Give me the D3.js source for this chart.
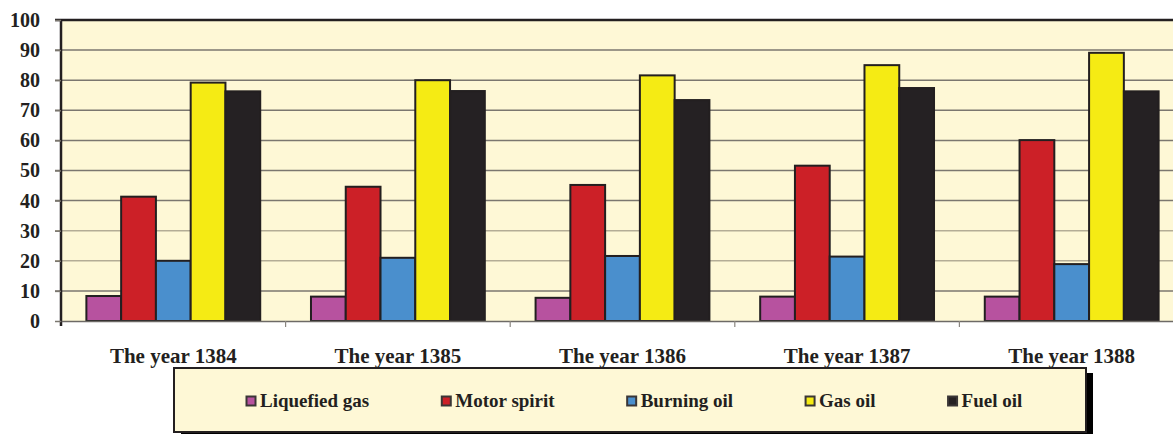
<!DOCTYPE html>
<html>
<head>
<meta charset="utf-8">
<script src="https://cdn.jsdelivr.net/npm/d3@7"></script>
<style>
  html, body { margin: 0; padding: 0; background: #fff; }
  svg text { font-family: "Liberation Serif", "Times New Roman", serif; font-weight: bold; fill: #231f20; }
</style>
</head>
<body>
<svg id="chart" width="1173" height="434"></svg>
<script>
// data
const years = ['The year 1384', 'The year 1385', 'The year 1386', 'The year 1387', 'The year 1388'];
const fuels = ['Liquefied gas', 'Motor spirit', 'Burning oil', 'Gas oil', 'Fuel oil'];
const liquefiedGas = [8.3, 8.1, 7.7, 8.1, 8.1];
const motorSpirit = [41.3, 44.6, 45.2, 51.6, 60.1];
const burningOil = [20.0, 21.0, 21.6, 21.4, 18.9];
const gasOil = [79.2, 80.0, 81.6, 85.0, 89.1];
const fuelOil = [76.3, 76.4, 73.4, 77.4, 76.3];
const yTicks = [0, 10, 20, 30, 40, 50, 60, 70, 80, 90, 100];

const seriesValues = [liquefiedGas, motorSpirit, burningOil, gasOil, fuelOil];
const colors = ['#b7529f', '#cc2027', '#4a8fcd', '#f5eb14', '#252123'];

const svg = d3.select('#chart');
const plotLeft = 61, plotTop = 20, plotBottom = 321, plotRight = 1184;

const x = d3.scaleBand()
  .domain(years)
  .range([plotLeft, plotRight])
  .paddingInner(0)
  .paddingOuter(0);

// bars sit side by side, with a gap of ~25px at both ends of every year
const xInner = d3.scaleBand()
  .domain(fuels)
  .range([0, x.bandwidth()])
  .paddingOuter(0.73)
  .paddingInner(0);

const y = d3.scaleLinear()
  .domain([0, 100])
  .range([plotBottom, plotTop]);

// plot background
svg.append('rect')
  .attr('x', plotLeft)
  .attr('y', plotTop)
  .attr('width', plotRight - plotLeft)
  .attr('height', plotBottom - plotTop)
  .attr('fill', '#fef8d6');

// gridlines
svg.append('g')
  .selectAll('line')
  .data(yTicks.filter(d => d > 0 && d < 100))
  .enter()
  .append('line')
  .attr('x1', plotLeft - 6)
  .attr('x2', plotRight)
  .attr('y1', d => y(d))
  .attr('y2', d => y(d))
  .attr('stroke', d => (d === 20 || d === 30) ? '#b4ad96' : '#7b776f')
  .attr('stroke-width', 1.5);

// bars
const groups = svg.selectAll('g.year')
  .data(years)
  .enter()
  .append('g')
  .attr('class', 'year')
  .attr('transform', d => `translate(${x(d)},0)`);

groups.selectAll('rect')
  .data((d, i) => fuels.map((f, j) => ({ fuel: f, value: seriesValues[j][i], color: colors[j] })))
  .enter()
  .append('rect')
  .attr('x', d => xInner(d.fuel))
  .attr('y', d => y(d.value))
  .attr('width', xInner.bandwidth())
  .attr('height', d => plotBottom - y(d.value))
  .attr('fill', d => d.color)
  .attr('stroke', '#231f20')
  .attr('stroke-width', 2);

// top border
svg.append('line')
  .attr('x1', plotLeft - 6).attr('x2', plotRight)
  .attr('y1', plotTop).attr('y2', plotTop)
  .attr('stroke', '#231f20').attr('stroke-width', 2.5);

// left axis line
svg.append('line')
  .attr('x1', plotLeft).attr('x2', plotLeft)
  .attr('y1', plotTop).attr('y2', plotBottom + 5)
  .attr('stroke', '#231f20').attr('stroke-width', 2.5);

// bottom axis
const xAxis = svg.append('g')
  .attr('transform', `translate(0,${plotBottom})`)
  .call(d3.axisBottom(x).tickSize(0).tickPadding(27));
xAxis.select('.domain').attr('stroke', '#6d6a66').attr('stroke-width', 1.5);
xAxis.selectAll('text')
  .style('font-family', '"Liberation Serif", serif')
  .style('font-weight', 'bold')
  .style('font-size', '21px')
  .attr('fill', '#231f20');

// category boundary ticks
svg.append('g')
  .selectAll('line')
  .data(years.slice(1))
  .enter()
  .append('line')
  .attr('x1', d => x(d)).attr('x2', d => x(d))
  .attr('y1', plotBottom).attr('y2', plotBottom + 6)
  .attr('stroke', '#8a8680').attr('stroke-width', 1.2);

// y axis labels
const yAxis = svg.append('g')
  .attr('transform', `translate(${plotLeft},0)`)
  .call(d3.axisLeft(y).tickValues(yTicks).tickSize(6).tickPadding(15));
yAxis.select('.domain').remove();
yAxis.selectAll('line').attr('stroke', '#7b776f').attr('stroke-width', 1.5);
yAxis.selectAll('text')
  .style('font-family', '"Liberation Serif", serif')
  .style('font-weight', 'bold')
  .style('font-size', '20px')
  .attr('fill', '#231f20');

// legend
const lg = { x: 174, y: 368, w: 912, h: 64 };
svg.append('rect')
  .attr('x', lg.x + 7).attr('y', lg.y + 5)
  .attr('width', lg.w).attr('height', lg.h)
  .attr('fill', '#000');
svg.append('rect')
  .attr('x', lg.x).attr('y', lg.y)
  .attr('width', lg.w).attr('height', lg.h)
  .attr('fill', '#fef8d6')
  .attr('stroke', '#231f20')
  .attr('stroke-width', 2);

let cursor = 246;
fuels.forEach((f, i) => {
  const item = svg.append('g').attr('transform', `translate(${cursor},396)`);
  item.append('rect')
    .attr('x', 0.5).attr('y', 0.5)
    .attr('width', 9).attr('height', 9)
    .attr('fill', colors[i])
    .attr('stroke', '#3a3636')
    .attr('stroke-width', 2);
  const t = item.append('text')
    .attr('x', 14)
    .attr('y', 11)
    .style('font-size', '19px')
    .text(f);
  cursor += 14 + t.node().getComputedTextLength() + 72;
});
</script>
</body>
</html>
